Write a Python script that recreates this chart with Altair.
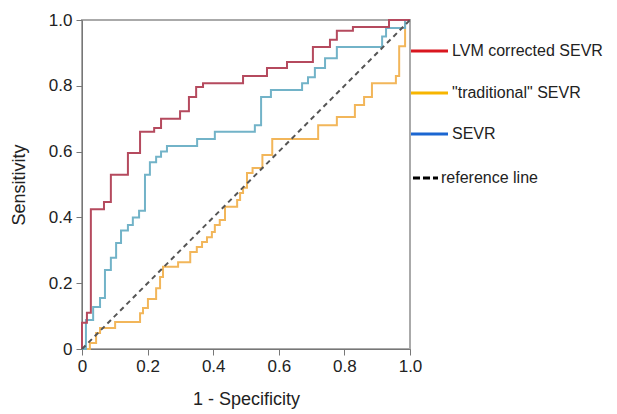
import altair as alt
import pandas as pd

# ROC step points (1 - specificity, sensitivity)
lvm_x = [0, 0, 0.015, 0.027, 0.067, 0.088, 0.14, 0.177, 0.22, 0.241, 0.299, 0.326, 0.348,
         0.369, 0.491, 0.564, 0.625, 0.704, 0.756, 0.777, 0.826, 0.936, 1.0]
lvm_y = [0, 0.08, 0.11, 0.425, 0.447, 0.53, 0.596, 0.66, 0.672, 0.70, 0.723, 0.766, 0.796,
         0.808, 0.83, 0.854, 0.872, 0.918, 0.94, 0.967, 0.979, 1.0, 1.0]

sevr_x = [0, 0.012, 0.034, 0.055, 0.070, 0.088, 0.104, 0.119, 0.140, 0.155, 0.174, 0.192,
          0.207, 0.226, 0.241, 0.259, 0.351, 0.405, 0.527, 0.546, 0.576, 0.671, 0.689,
          0.710, 0.741, 0.777, 0.915, 0.927, 0.985, 1.0]
sevr_y = [0, 0.088, 0.128, 0.155, 0.24, 0.277, 0.322, 0.36, 0.377, 0.40, 0.42, 0.53,
          0.568, 0.584, 0.60, 0.617, 0.638, 0.66, 0.68, 0.766, 0.787, 0.808, 0.826,
          0.854, 0.884, 0.918, 0.95, 0.976, 1.0, 1.0]

trad_x = [0, 0.024, 0.043, 0.055, 0.101, 0.177, 0.186, 0.201, 0.226, 0.238, 0.247, 0.293,
          0.33, 0.35, 0.366, 0.381, 0.396, 0.405, 0.42, 0.436, 0.473, 0.482, 0.491, 0.503,
          0.52, 0.55, 0.58, 0.72, 0.777, 0.832, 0.86, 0.884, 0.957, 0.967, 0.985, 1.0]
trad_y = [0, 0.018, 0.049, 0.064, 0.082, 0.109, 0.125, 0.152, 0.185, 0.219, 0.25, 0.264,
          0.295, 0.31, 0.325, 0.34, 0.356, 0.377, 0.392, 0.432, 0.453, 0.474, 0.49, 0.535,
          0.55, 0.59, 0.638, 0.68, 0.705, 0.742, 0.766, 0.808, 0.83, 0.92, 1.0, 1.0]

ref_x = [0, 1]
ref_y = [0, 1]

series_names = ['"traditional" SEVR', "SEVR", "LVM corrected SEVR"]
line_colors = ["#f2b65a", "#72b3c8", "#b54a5e"]
legend_labels = ["LVM corrected SEVR", '"traditional" SEVR', "SEVR", "reference line"]
legend_colors = ["#d9161f", "#f7b500", "#1b66d1", "#000000"]
ticks = [0, 0.2, 0.4, 0.6, 0.8, 1.0]

rows = []
for name, xs, ys in zip(series_names, [trad_x, sevr_x, lvm_x], [trad_y, sevr_y, lvm_y]):
    for i, (x, y) in enumerate(zip(xs, ys)):
        rows.append({"series": name, "fpr": x, "tpr": y, "i": i})
df = pd.DataFrame(rows)
ref_df = pd.DataFrame({"fpr": ref_x, "tpr": ref_y})

FONT = "Liberation Sans"
label_expr = "datum.value == 0 ? '0' : format(datum.value, '.1f')"

xs = alt.X("fpr:Q", scale=alt.Scale(domain=[0, 1], nice=False),
           axis=alt.Axis(values=ticks, labelExpr=label_expr, title="1 - Specificity",
                         grid=False, tickSize=6, labelPadding=3, titlePadding=16,
                         labelFontSize=17, titleFontSize=18, labelFont=FONT, titleFont=FONT,
                         titleFontWeight="normal", labelColor="#222", titleColor="#222",
                         domainColor="#777", tickColor="#777", labelFlush=False))
ys = alt.Y("tpr:Q", scale=alt.Scale(domain=[0, 1], nice=False),
           axis=alt.Axis(values=ticks, labelExpr=label_expr, title="Sensitivity",
                         grid=False, tickSize=6, labelPadding=4, titlePadding=20,
                         labelFontSize=17, titleFontSize=18, labelFont=FONT, titleFont=FONT,
                         titleFontWeight="normal", labelColor="#222", titleColor="#222",
                         domainColor="#777", tickColor="#777", labelFlush=False))

lines = alt.Chart(df).mark_line(interpolate="step-after", strokeWidth=2, clip=False).encode(
    x=xs, y=ys,
    color=alt.Color("series:N", scale=alt.Scale(domain=series_names, range=line_colors), legend=None),
    order="i:Q",
    detail="series:N",
)

ref = alt.Chart(ref_df).mark_line(strokeDash=[5, 4], strokeWidth=2, color="#555").encode(
    x="fpr:Q", y="tpr:Q")

one = pd.DataFrame({"a": [0]})
legend_layers = []
legend_y = [31, 73, 114, 158]
for k, (lab, col, yy) in enumerate(zip(legend_labels, legend_colors, legend_y)):
    if k < 3:
        r = alt.Chart(one).mark_rule(color=col, strokeWidth=3).encode(
            x=alt.value(329), x2=alt.value(366), y=alt.value(yy))
        tx = 370
    else:
        r = alt.Chart(one).mark_rule(color=col, strokeWidth=3, strokeDash=[7, 3]).encode(
            x=alt.value(331), x2=alt.value(356), y=alt.value(yy))
        tx = 359
    t = alt.Chart(one).mark_text(align="left", baseline="middle", fontSize=16, font=FONT,
                                 color="#222").encode(
        x=alt.value(tx), y=alt.value(yy), text=alt.value(lab))
    legend_layers += [r, t]

chart = alt.layer(lines, ref, *legend_layers).properties(
    width=328, height=329,
    autosize=alt.AutoSizeParams(type="none"),
    padding={"left": 74, "top": 12, "right": 199, "bottom": 64},
).configure_view(stroke="#aaa", strokeWidth=2)

chart.save("out.html", embed_options={"renderer": "svg", "actions": False})
